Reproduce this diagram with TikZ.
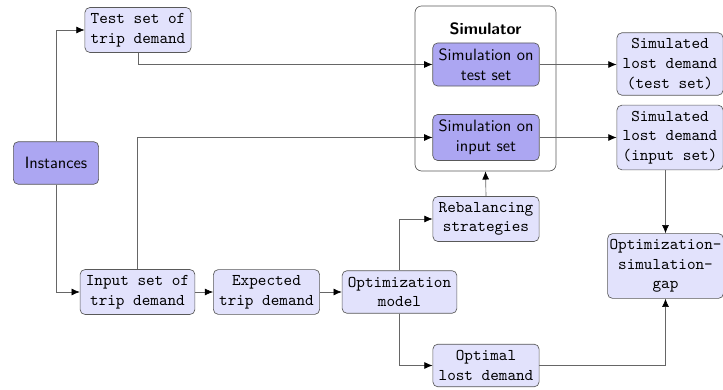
\documentclass[tikz,border=0pt]{standalone}
\usetikzlibrary{positioning,arrows.meta}

\definecolor{lightbox}{RGB}{226,226,252}
\definecolor{darkbox}{RGB}{172,166,242}

\tikzset{
  data/.style={draw=black!65, rounded corners=3pt, fill=lightbox, font=\ttfamily,
    align=center, inner sep=3.5pt, minimum height=26pt},
  proc/.style={draw=black!65, rounded corners=3pt, fill=darkbox, font=\sffamily,
    align=center, inner sep=3.5pt, minimum height=26pt},
  flow/.style={draw=black!60, -{Latex[length=5pt,width=4.2pt,black]}}
}

\begin{document}
\begin{tikzpicture}[x=0.6098pt,y=-0.6098pt]
  \useasboundingbox (0,0) rectangle (723,390);

  % simulator frame
  \node[draw=black!65, rounded corners=4pt, minimum width=141*0.6098pt,
    minimum height=165*0.6098pt] (sim) at (485.5,88.5) {};
  \node[font=\sffamily\bfseries] (simlabel) at (485.5,29) {Simulator};

  \node[proc, minimum width=52pt] (instances) at (56,163) {Instances};
  \node[data] (test) at (138,30) {Test set of\\trip demand};
  \node[data] (input) at (137.5,292) {Input set of\\trip demand};
  \node[data] (expected) at (266.5,292) {Expected\\trip demand};
  \node[data] (optmodel) at (399.5,292) {Optimization\\model};
  \node[data] (rebal) at (486,219) {Rebalancing\\strategies};
  \node[data] (optlost) at (486,365.5) {Optimal\\lost demand};
  \node[proc, minimum width=106*0.6098pt] (simtest) at (486,64.5) {Simulation on\\test set};
  \node[proc, minimum width=106*0.6098pt] (siminput) at (486,137.5) {Simulation on\\input set};
  \node[data] (losttest) at (670,64) {Simulated\\lost demand\\(test set)};
  \node[data] (lostinput) at (670,137.5) {Simulated\\lost demand\\(input set)};
  \node[data, inner xsep=1.2pt] (gap) at (665.5,266) {Optimization-\\simulation-\\gap};

  \draw[flow] (instances.north) |- (test.west);
  \draw[flow] (instances.south) |- (input.west);
  \draw[flow] (test.south) |- (simtest.west);
  \draw[flow] (input.north) |- (siminput.west);
  \draw[flow] (input) -- (expected);
  \draw[flow] (expected) -- (optmodel);
  \draw[flow] (optmodel.north) |- (rebal.west);
  \draw[flow] (optmodel.south) |- (optlost.west);
  \draw[flow] (rebal.north) -- (sim.south);
  \draw[flow] (simtest) -- (losttest.west |- simtest);
  \draw[flow] (siminput) -- (lostinput.west |- siminput);
  \draw[flow] (lostinput.south -| gap.north) -- (gap.north);
  \draw[flow] (optlost.east) -| (gap.south);
\end{tikzpicture}
\end{document}
